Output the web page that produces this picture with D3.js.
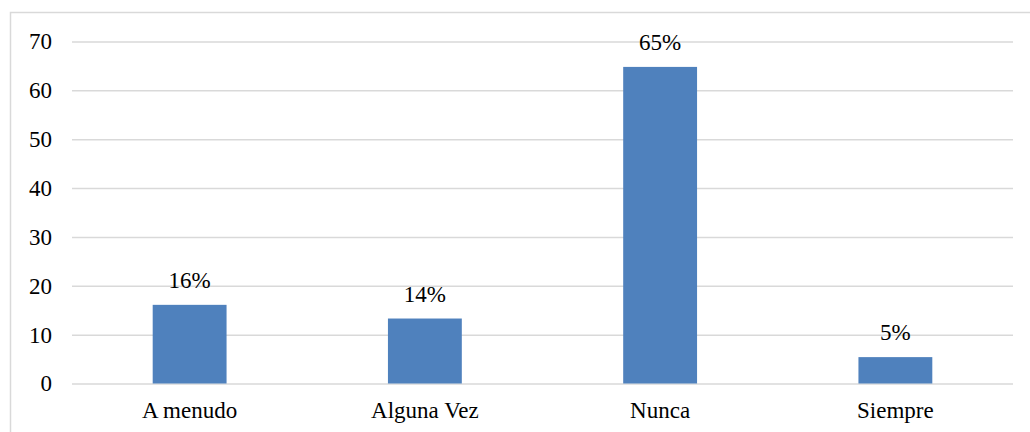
<!DOCTYPE html>
<html>
<head>
<meta charset="utf-8">
<script src="https://cdn.jsdelivr.net/npm/d3@7"></script>
<style>
  html, body { margin: 0; padding: 0; background: #fff; }
  svg { display: block; }
</style>
</head>
<body>
<svg id="chart" width="1030" height="432"></svg>
<script>
const categories = ["A menudo", "Alguna Vez", "Nunca", "Siempre"];
const values = [16.1, 13.3, 64.8, 5.4];
const labels = ["16%", "14%", "65%", "5%"];
const yTicks = [0, 10, 20, 30, 40, 50, 60, 70];

const svg = d3.select("#chart");
const plotLeft = 72, plotRight = 1013, plotTop = 41.5, plotBottom = 383.5;
const fontSize = "23px";
const serif = "'Liberation Serif', 'Times New Roman', Times, serif";

// outer chart border
svg.append("rect")
  .attr("x", 10.5).attr("y", 12.5)
  .attr("width", 1030).attr("height", 440)
  .attr("fill", "none").attr("stroke", "#d9d9d9").attr("stroke-width", 1.5);

const x = d3.scaleBand().domain(categories).range([plotLeft, plotRight])
  .paddingInner(0.686).paddingOuter(0.343);
const y = d3.scaleLinear().domain([0, 70]).range([plotBottom, plotTop]);

// gridlines + y labels
const yAxis = d3.axisLeft(y).tickValues(yTicks).tickSize(-(plotRight - plotLeft)).tickPadding(20).tickFormat(d3.format("d"));
const gy = svg.append("g").attr("transform", `translate(${plotLeft},0)`).call(yAxis);
gy.select(".domain").remove();
gy.selectAll(".tick line").attr("stroke", "#d9d9d9").attr("stroke-width", 1.5);
gy.selectAll(".tick text").style("font-size", fontSize).style("font-family", serif).attr("fill", "#000");

// bars
svg.append("g").selectAll("rect").data(values).join("rect")
  .attr("x", (d, i) => x(categories[i]))
  .attr("y", d => y(d))
  .attr("width", x.bandwidth())
  .attr("height", d => y(0) - y(d))
  .attr("fill", "#4f81bd");

// value labels
svg.append("g").selectAll("text").data(values).join("text")
  .attr("x", (d, i) => x(categories[i]) + x.bandwidth() / 2)
  .attr("y", d => y(d) - 17)
  .attr("text-anchor", "middle")
  .style("font-size", fontSize).style("font-family", serif)
  .attr("fill", "#000")
  .text((d, i) => labels[i]);

// x axis
const xAxis = d3.axisBottom(x).tickSize(0).tickPadding(0);
const gx = svg.append("g").attr("transform", `translate(0,${plotBottom})`).call(xAxis);
gx.select(".domain").remove();
gx.selectAll(".tick text").style("font-size", fontSize).style("font-family", serif)
  .attr("fill", "#000").attr("dy", null).attr("y", 34.5);
</script>
</body>
</html>
